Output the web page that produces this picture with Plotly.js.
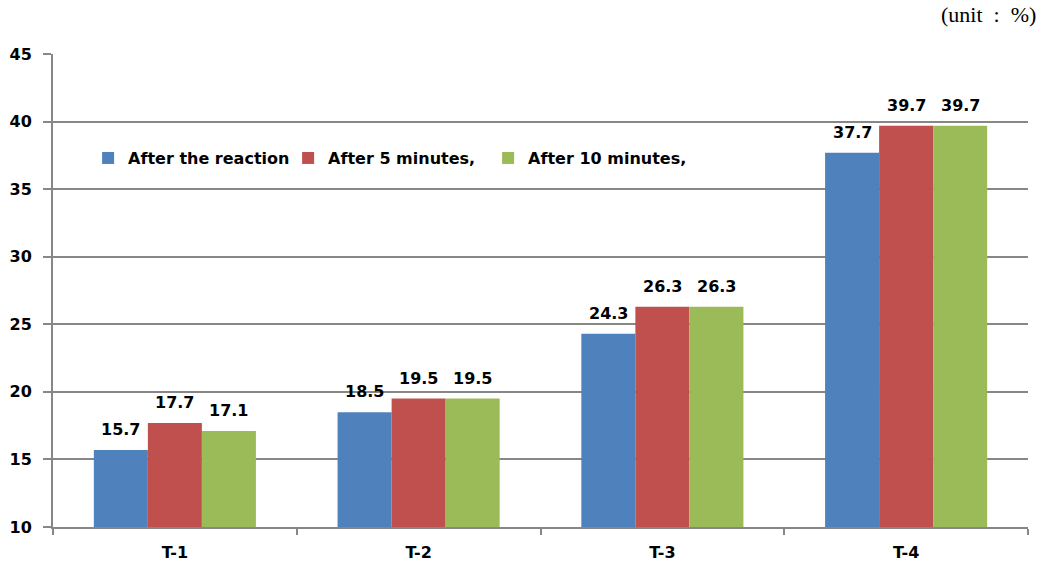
<!DOCTYPE html>
<html>
<head>
<meta charset="utf-8">
<script src="https://cdn.plot.ly/plotly-3.0.1.min.js"></script>
<style>html,body{margin:0;padding:0;background:#fff;}#chart{width:1048px;height:564px;}</style>
</head>
<body>
<div id="chart"></div>
<script>
const categories = ["T-1", "T-2", "T-3", "T-4"];
const seriesNames = ["After the reaction", "After 5 minutes,", "After 10 minutes,"];
const afterReaction = [15.7, 18.5, 24.3, 37.7];
const after5min = [17.7, 19.5, 26.3, 39.7];
const after10min = [17.1, 19.5, 26.3, 39.7];
const yTicks = [10, 15, 20, 25, 30, 35, 40, 45];

const colors = ["#4F81BD", "#C0504D", "#9BBB59"];
const seriesValues = [afterReaction, after5min, after10min];
const BARGAP = 0.335;
const FONT = "DejaVu Sans, Verdana, sans-serif";

const traces = seriesValues.map((vals, i) => ({
  type: "bar",
  name: seriesNames[i],
  x: categories,
  y: vals,
  marker: {color: colors[i], line: {width: 0}},
  hoverinfo: "x+y+name"
}));

// value labels above each bar, positioned through the category/value scales
const nSeries = seriesValues.length;
const barW = (1 - BARGAP) / nSeries;
const labelAnnotations = [];
seriesValues.forEach((vals, i) => {
  vals.forEach((v, j) => {
    labelAnnotations.push({
      x: j + (i - (nSeries - 1) / 2) * barW,
      y: v,
      xref: "x", yref: "y",
      text: v.toFixed(1),
      showarrow: false,
      xanchor: "center", yanchor: "bottom",
      yshift: 9,
      font: {family: FONT, size: 16, color: "#000", weight: "bold"}
    });
  });
});

const layout = {
  width: 1048, height: 564,
  margin: {l: 53, r: 20, t: 54, b: 37},
  paper_bgcolor: "#fff", plot_bgcolor: "#fff",
  barmode: "group",
  bargap: BARGAP,
  bargroupgap: 0,
  font: {family: FONT, size: 13, color: "#000"},
  xaxis: {
    type: "category",
    range: [-0.5, categories.length - 0.5],
    showline: true, linecolor: "#878787", linewidth: 2,
    ticks: "outside", tickson: "boundaries", ticklen: 6, tickcolor: "#878787", tickwidth: 2,
    ticklabelstandoff: 10,
    tickfont: {family: FONT, size: 16, weight: "bold", color: "#000"},
    showgrid: false
  },
  yaxis: {
    range: [10, 45],
    tickvals: yTicks,
    showline: true, linecolor: "#878787", linewidth: 2,
    ticks: "outside", ticklen: 8, tickcolor: "#878787", tickwidth: 2,
    ticklabelstandoff: 8,
    showgrid: true, gridcolor: "#878787", gridwidth: 2,
    zeroline: false,
    tickfont: {family: FONT, size: 16, weight: "bold", color: "#000"}
  },
  legend: {
    orientation: "h",
    x: 0.036, y: 0.78, xanchor: "left", yanchor: "middle",
    bgcolor: "rgba(255,255,255,0)",
    font: {family: FONT, size: 16, weight: "bold", color: "#000"},
    itemwidth: 30,
    entrywidth: 155,
    entrywidthmode: "pixels",
    traceorder: "normal"
  },
  annotations: labelAnnotations.concat([{
    text: "(unit\u00a0\u00a0:\u00a0\u00a0%)",
    xref: "paper", yref: "paper",
    x: 1, y: 1, xanchor: "right", yanchor: "bottom",
    yshift: 25, xshift: 10,
    showarrow: false,
    font: {family: "Liberation Serif, Times New Roman, serif", size: 22, color: "#000"}
  }]),
  showlegend: true
};

Plotly.newPlot("chart", traces, layout, {displayModeBar: false, staticPlot: true});
</script>
</body>
</html>
